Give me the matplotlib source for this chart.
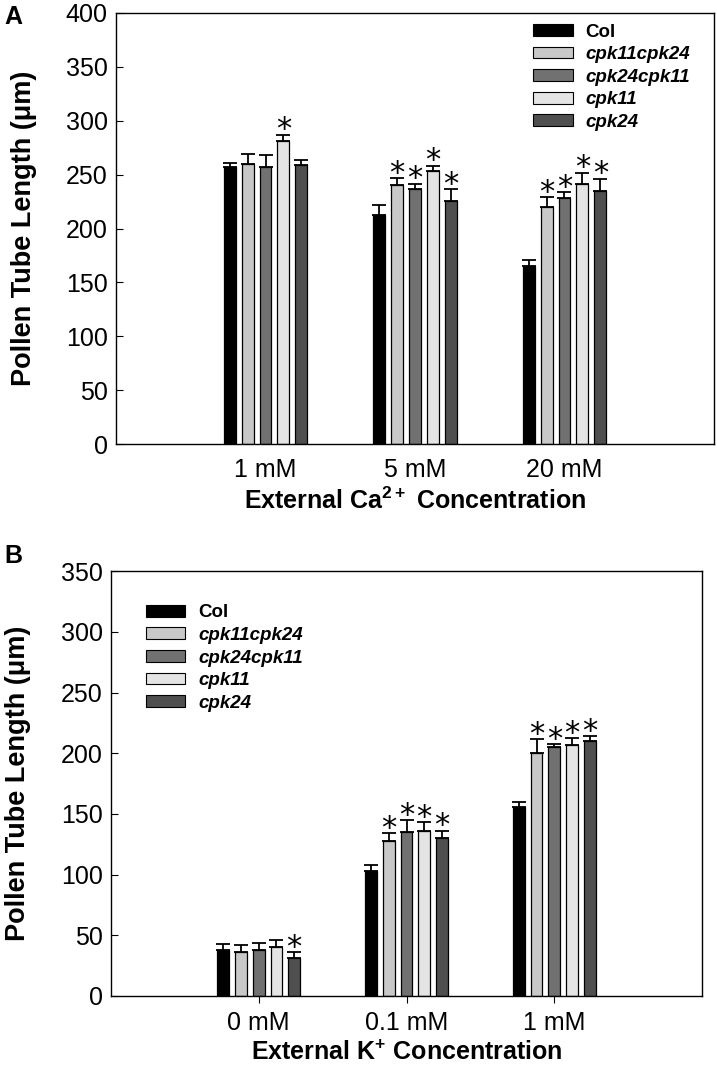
import numpy as np
import matplotlib
matplotlib.use('Agg')
import matplotlib.pyplot as plt
from matplotlib.patches import Patch

plt.rcParams['font.family'] = ['Liberation Sans', 'DejaVu Sans']

#############################################################
''' data read off the figure '''

genotypes = ['Col', 'cpk11cpk24', 'cpk24cpk11', 'cpk11', 'cpk24']
colours = ['#000000', '#c8c8c8', '#717171', '#e4e4e4', '#4f4f4f']

# panel A: external Ca2+
ca_conc = ['1 mM', '5 mM', '20 mM']
ca_mean = np.array([[257, 213, 165],
                    [260, 240, 220],
                    [257, 237, 228],
                    [281, 253, 241],
                    [259, 226, 235]])
ca_err = np.array([[4, 9, 6],
                   [9, 6.5, 9],
                   [11, 4.5, 5.5],
                   [6, 5.5, 11],
                   [5, 10.5, 11]])
ca_sig = np.array([[0, 0, 0],
                   [0, 1, 1],
                   [0, 1, 1],
                   [1, 1, 1],
                   [0, 1, 1]])

# panel B: external K+
k_conc = ['0 mM', '0.1 mM', '1 mM']
k_mean = np.array([[38, 103, 156],
                   [36, 128, 200],
                   [38, 135, 205],
                   [40, 136, 207],
                   [31, 130, 210]])
k_err = np.array([[4.5, 5, 4],
                  [6, 6, 11.5],
                  [5.5, 10, 2.5],
                  [6, 7, 5.5],
                  [5, 6, 4]])
k_sig = np.array([[0, 0, 0],
                  [0, 1, 1],
                  [0, 1, 1],
                  [0, 1, 1],
                  [1, 1, 1]])

bar_w = 0.08
bar_step = 0.12


def draw_panel(ax, conc, mean, err, sig, ymax, ystep, xlab, legend_anchor):
	x = np.arange(1, len(conc) + 1)
	for i in range(len(genotypes)):
		xi = x + (i - 2) * bar_step
		ax.bar(xi, mean[i], bar_w, color=colours[i], edgecolor='black', linewidth=0.9, zorder=2)
		ax.errorbar(xi, mean[i], yerr=[np.zeros_like(err[i]), err[i]], fmt='none',
			ecolor='black', elinewidth=1.3, capsize=5, capthick=1.3, zorder=1)
		for xx, m, e, s in zip(xi, mean[i], err[i], sig[i]):
			if s:
				# asterisk glyph sits high in the em box, so pull the baseline down a bit
				ax.annotate('*', (xx, m + e), xytext=(0, -2.5), textcoords='offset points',
					ha='center', va='baseline', fontsize=22, family='DejaVu Sans')
	ax.set_xlim(0, len(conc) + 1)
	ax.set_ylim(0, ymax)
	ax.set_yticks(np.arange(0, ymax + 1, ystep))
	ax.set_xticks(x)
	ax.set_xticklabels(conc, fontsize=18)
	ax.tick_params(axis='y', direction='in', labelsize=18, length=5, right=False, pad=6)
	ax.set_ylabel('Pollen Tube Length (μm)', fontsize=19.5, fontweight='bold', labelpad=21)
	ax.set_xlabel(xlab, fontsize=18, fontweight='bold', labelpad=4)
	for sp in ax.spines.values():
		sp.set_linewidth(1.0)

	handles = [Patch(facecolor=c, edgecolor='black', linewidth=0.8) for c in colours]
	leg = ax.legend(handles, genotypes, loc='upper left', bbox_to_anchor=legend_anchor,
		frameon=False, handlelength=2.1, handleheight=0.6, labelspacing=0.3,
		handletextpad=0.7, borderaxespad=0,
		prop={'weight': 'bold', 'size': 13.5})
	for t in leg.get_texts():
		if t.get_text() != 'Col':
			t.set_style('italic')
	return leg


fig = plt.figure(figsize=(7.17, 10.82), dpi=100)

axA = fig.add_axes([0.1618, 0.5895, 0.8340, 0.3985])
draw_panel(axA, ca_conc, ca_mean, ca_err, ca_sig, 400, 50,
	'External Ca$\\mathregular{^{2+}}$ Concentration', (0.685, 0.993))
axA.tick_params(axis='x', length=0, pad=10)

axB = fig.add_axes([0.1548, 0.0795, 0.8243, 0.3925])
draw_panel(axB, k_conc, k_mean, k_err, k_sig, 350, 50,
	'External K$\\mathregular{^{+}}$ Concentration', (0.046, 0.94))
axB.tick_params(axis='x', direction='out', length=5, pad=6)

fig.text(0.006, 0.995, 'A', fontsize=18, fontweight='bold', va='top')
fig.text(0.006, 0.497, 'B', fontsize=18, fontweight='bold', va='top')

fig.savefig('out.png', dpi=100)
